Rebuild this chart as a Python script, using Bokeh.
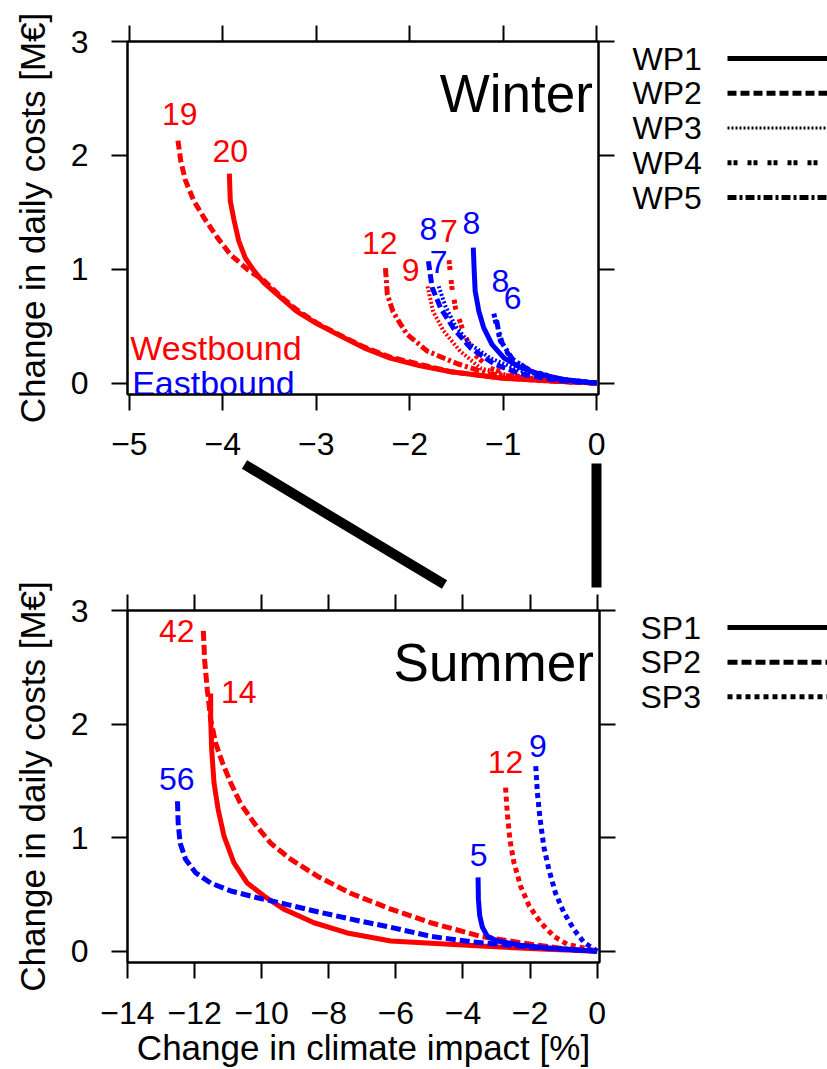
from bokeh.plotting import figure
from bokeh.layouts import column, row
from bokeh.models import FixedTicker, Range1d, LinearAxis
from bokeh.core.properties import value
from bokeh.embed import file_html
from bokeh.resources import INLINE

FONT = "Liberation Sans"
RED = "#FF0000"
BLUE = "#0000FF"

# ---------------- tick data ----------------
w_xticks = [-5, -4, -3, -2, -1, 0]
w_xtick_labels = ["\u22125", "\u22124", "\u22123", "\u22122", "\u22121", "0"]
s_xticks = [-14, -12, -10, -8, -6, -4, -2, 0]
s_xtick_labels = ["\u221214", "\u221212", "\u221210", "\u22128", "\u22126", "\u22124", "\u22122", "0"]
yticks = [0, 1, 2, 3]
ytick_labels = ["0", "1", "2", "3"]

# ---------------- winter data ----------------
w_legend = ["WP1", "WP2", "WP3", "WP4", "WP5"]

# westbound (red)
wW1_x = [-3.93, -3.92, -3.88, -3.83, -3.76, -3.67, -3.56, -3.38, -3.21, -2.99, -2.78, -2.49, -2.21, -1.90, -1.56, -1.03, -0.49, 0]
wW1_y = [1.84, 1.60, 1.43, 1.25, 1.10, 0.99, 0.88, 0.75, 0.63, 0.52, 0.43, 0.31, 0.22, 0.155, 0.10, 0.044, 0.018, 0]
wW2_x = [-4.48, -4.45, -4.40, -4.31, -4.20, -4.06, -3.92, -3.74, -3.56, -3.38, -3.21, -2.99, -2.78, -2.49, -2.21, -1.56, -1.03, -0.49, 0]
wW2_y = [2.13, 1.95, 1.78, 1.60, 1.45, 1.28, 1.13, 1.00, 0.90, 0.76, 0.645, 0.525, 0.435, 0.318, 0.228, 0.10, 0.046, 0.018, 0]
wW3_x = [-1.81, -1.78, -1.75, -1.64, -1.46, -1.24, -0.95, -0.71, -0.35, 0]
wW3_y = [0.85, 0.74, 0.63, 0.46, 0.28, 0.13, 0.07, 0.035, 0.012, 0]
wW4_x = [-1.58, -1.55, -1.51, -1.43, -1.32, -1.14, -0.90, -0.60, -0.30, 0]
wW4_y = [1.08, 0.85, 0.66, 0.46, 0.26, 0.13, 0.07, 0.03, 0.01, 0]
wW5_x = [-2.26, -2.25, -2.24, -2.18, -2.10, -2.03, -1.81, -1.49, -1.14, -0.60, -0.30, 0]
wW5_y = [1.01, 0.90, 0.78, 0.63, 0.52, 0.43, 0.28, 0.17, 0.08, 0.03, 0.012, 0]
wW_counts = ["20", "19", "9", "7", "12"]

# eastbound (blue)
wE1_x = [-1.32, -1.31, -1.30, -1.26, -1.21, -1.12, -0.99, -0.81, -0.60, -0.35, 0]
wE1_y = [1.19, 0.985, 0.81, 0.63, 0.49, 0.34, 0.22, 0.135, 0.076, 0.032, 0]
wE2_x = [-1.80, -1.78, -1.76, -1.67, -1.53, -1.35, -1.10, -0.81, -0.39, 0]
wE2_y = [1.07, 0.95, 0.84, 0.66, 0.48, 0.31, 0.17, 0.08, 0.02, 0]
wE3_x = [-1.69, -1.62, -1.51, -1.35, -1.14, -0.81, -0.39, 0]
wE3_y = [0.85, 0.68, 0.50, 0.34, 0.22, 0.11, 0.03, 0]
wE4_x = [-1.10, -1.07, -1.03, -0.92, -0.71, -0.39, 0]
wE4_y = [0.61, 0.50, 0.37, 0.22, 0.11, 0.035, 0]
wE5_x = [-1.07, -1.05, -1.01, -0.90, -0.70, -0.39, 0]
wE5_y = [0.55, 0.46, 0.35, 0.21, 0.10, 0.03, 0]
wE_counts = ["8", "8", "7", "8", "6"]

# ---------------- summer data ----------------
s_legend = ["SP1", "SP2", "SP3"]

sW1_x = [-11.52, -11.52, -11.49, -11.42, -11.30, -11.12, -10.83, -10.43, -9.93, -9.34, -8.44, -7.45, -6.15, -3.47, -1.68, 0]
sW1_y = [2.27, 2.04, 1.77, 1.48, 1.25, 1.01, 0.78, 0.60, 0.485, 0.37, 0.25, 0.16, 0.09, 0.045, 0.018, 0]
sW2_x = [-11.74, -11.70, -11.62, -11.52, -11.37, -11.17, -10.92, -10.63, -10.23, -9.73, -9.14, -8.34, -7.35, -6.15, -4.96, -3.47, -1.98, -0.89, 0]
sW2_y = [2.82, 2.56, 2.30, 2.04, 1.83, 1.66, 1.48, 1.30, 1.13, 0.95, 0.81, 0.66, 0.51, 0.37, 0.25, 0.13, 0.06, 0.018, 0]
sW3_x = [-2.73, -2.68, -2.60, -2.48, -2.28, -2.03, -1.68, -1.29, -0.89, 0]
sW3_y = [1.44, 1.22, 0.98, 0.78, 0.57, 0.40, 0.25, 0.13, 0.06, 0]
sW_counts = ["14", "42", "12"]

sE1_x = [-3.55, -3.54, -3.50, -3.42, -3.27, -2.97, -2.28, -1.29, 0]
sE1_y = [0.65, 0.46, 0.31, 0.21, 0.13, 0.09, 0.053, 0.024, 0]
sE2_x = [-12.51, -12.49, -12.43, -12.27, -11.97, -11.52, -10.92, -10.13, -9.23, -8.24, -7.15, -6.15, -4.96, -3.68, -1.98, 0]
sE2_y = [1.32, 1.13, 0.95, 0.81, 0.69, 0.60, 0.53, 0.47, 0.41, 0.34, 0.27, 0.21, 0.13, 0.08, 0.035, 0]
sE3_x = [-1.83, -1.78, -1.70, -1.59, -1.44, -1.24, -0.99, -0.69, -0.39, 0]
sE3_y = [1.63, 1.39, 1.16, 0.92, 0.72, 0.51, 0.34, 0.19, 0.076, 0]
sE_counts = ["5", "56", "9"]

# connector lines in the strip between the panels (strip pixels)
conn_x0 = [244, 596]
conn_y0 = [6, 5]
conn_x1 = [444, 596]
conn_y1 = [126, 129]

# ---------------- styles ----------------
W_DASH = ["solid", "9 4", "2 2", "4 2 4 10", "9 3 3 3"]
S_DASH = ["solid", "10 4", "5 4"]
LW = 5


def style_axis(ax, ticks, labels, show=True, standoff=18):
    ax.ticker = FixedTicker(ticks=ticks)
    if show:
        ax.major_label_overrides = {t: l for t, l in zip(ticks, labels)}
        ax.major_label_text_font_size = "32px"
    else:
        ax.major_label_overrides = {t: "" for t in ticks}
        ax.major_label_text_font_size = "0px"
    ax.major_label_text_font = FONT
    ax.major_label_text_color = "black"
    ax.major_label_text_line_height = 1.0
    ax.major_label_standoff = standoff if show else 0
    ax.axis_line_color = "black"
    ax.axis_line_width = 2
    ax.major_tick_line_color = "black"
    ax.major_tick_line_width = 2
    ax.major_tick_in = 0
    ax.major_tick_out = 16
    ax.minor_tick_line_color = None
    ax.axis_label_text_font = FONT
    ax.axis_label_text_font_size = "35px"
    ax.axis_label_text_font_style = "normal"
    ax.axis_label_text_color = "black"
    ax.axis_label_text_line_height = 1.0


def panel(width, height, xr, xticks, xlabels, mb, xstand, xlabel=None):
    p = figure(width=width, height=height, x_range=Range1d(*xr), y_range=Range1d(-0.1, 3.0),
               output_backend="svg", toolbar_location=None,
               min_border_left=mb[0], min_border_right=mb[1],
               min_border_top=mb[2], min_border_bottom=mb[3])
    p.grid.visible = False
    p.outline_line_color = "black"
    p.outline_line_width = 2
    p.background_fill_color = "white"
    p.border_fill_color = None
    style_axis(p.xaxis[0], xticks, xlabels, True, xstand)
    style_axis(p.yaxis[0], yticks, ytick_labels, True, 23)
    p.yaxis[0].axis_label = "Change in daily costs [M\u20ac]"
    p.yaxis[0].axis_label_standoff = 16
    if xlabel:
        p.xaxis[0].axis_label = xlabel
        p.xaxis[0].axis_label_standoff = 1
    top = LinearAxis()
    style_axis(top, xticks, xlabels, False)
    p.add_layout(top, "above")
    right = LinearAxis()
    style_axis(right, yticks, ytick_labels, False)
    p.add_layout(right, "right")
    return p


def curves(p, xs, ys, color, dashes, counts, offs):
    for x, y, d in zip(xs, ys, dashes):
        lw = 4 if d == "2 2" else LW
        p.line(x, y, line_color=color, line_width=lw, line_dash=d, line_cap="butt", line_join="round")
    lx = [x[0] + o[0] for x, o in zip(xs, offs)]
    ly = [y[0] + o[1] for y, o in zip(ys, offs)]
    p.text(lx, ly, text=counts, text_color=color, text_align="center", text_baseline="middle",
           text_font=value(FONT), text_font_size="32px")


def legend_fig(width, height, mb_top, mb_bottom, names, dashes, tx):
    lp = figure(width=width, height=height, x_range=Range1d(0, width), y_range=Range1d(-0.1, 3.0),
                output_backend="svg", toolbar_location=None, x_axis_type=None, y_axis_type=None,
                min_border_left=0, min_border_right=0, min_border_top=mb_top, min_border_bottom=mb_bottom)
    lp.grid.visible = False
    lp.outline_line_color = None
    lp.background_fill_color = None
    lp.border_fill_color = None
    ys = [2.85 - i * 0.305 for i in range(len(names))]
    lp.text([tx] * len(names), ys, text=names, text_align="left", text_baseline="middle",
            text_font=value(FONT), text_font_size="32px", text_color="black")
    for y, d in zip(ys, dashes):
        lw = 3 if d == "2 2" else 5
        lp.line([107, width + 20], [y, y], line_color="black", line_width=lw, line_dash=d, line_cap="butt")
    return lp


# ---------------- winter ----------------
pw = panel(620, 470, (-5.02, 0.02), w_xticks, w_xtick_labels, (127, 22, 41, 76), 22)
curves(pw, [wW1_x, wW2_x, wW3_x, wW4_x, wW5_x], [wW1_y, wW2_y, wW3_y, wW4_y, wW5_y], RED, W_DASH, wW_counts,
       [(0.01, 0.20), (0.02, 0.23), (-0.18, 0.14), (0.0, 0.26), (-0.06, 0.22)])
curves(pw, [wE1_x, wE2_x, wE3_x, wE4_x, wE5_x], [wE1_y, wE2_y, wE3_y, wE4_y, wE5_y], BLUE, W_DASH, wE_counts,
       [(-0.02, 0.22), (0.0, 0.28), (0.0, 0.21), (0.07, 0.29), (0.17, 0.20)])
pw.text([-0.04], [2.54], text=["Winter"], text_align="right", text_baseline="alphabetic",
        text_font=value(FONT), text_font_size="53px", text_color="black")
pw.text([-4.99, -4.97], [0.31, 0.0], text=["Westbound", "Eastbound"], text_color=[RED, BLUE],
        text_align="left", text_baseline="alphabetic", text_font=value(FONT), text_font_size="34px")
lw_fig = legend_fig(207, 470, 41, 76, w_legend, W_DASH, 12)

# ---------------- connectors ----------------
pm = figure(width=827, height=134, x_range=Range1d(0, 827), y_range=Range1d(134, 0),
            output_backend="svg", toolbar_location=None, x_axis_type=None, y_axis_type=None,
            min_border=0, margin=(-12, 0, 0, 0))
pm.grid.visible = False
pm.outline_line_color = None
pm.background_fill_color = None
pm.border_fill_color = None
pm.segment(conn_x0, conn_y0, conn_x1, conn_y1, line_color="black", line_width=10, line_cap="butt")

# ---------------- summer ----------------
ps = panel(620, 497, (-14.0, 0.07), s_xticks, s_xtick_labels, (127, 21, 38, 106), 23,
           xlabel="Change in climate impact [%]")
curves(ps, [sW1_x, sW2_x, sW3_x], [sW1_y, sW2_y, sW3_y], RED, S_DASH, sW_counts,
       [(0.84, 0.01), (-0.79, 0.0), (0.0, 0.23)])
curves(ps, [sE1_x, sE2_x, sE3_x], [sE1_y, sE2_y, sE3_y], BLUE, S_DASH, sE_counts,
       [(0.02, 0.20), (-0.02, 0.20), (0.06, 0.18)])
ps.text([-0.10], [2.54], text=["Summer"], text_align="right", text_baseline="alphabetic",
        text_font=value(FONT), text_font_size="53px", text_color="black")
ls_fig = legend_fig(207, 497, 38, 106, s_legend, S_DASH, 20)

layout = column(row(pw, lw_fig), pm, row(ps, ls_fig, margin=(-20, 0, 0, 0)))
open("out.html", "w").write(file_html(layout, INLINE))
